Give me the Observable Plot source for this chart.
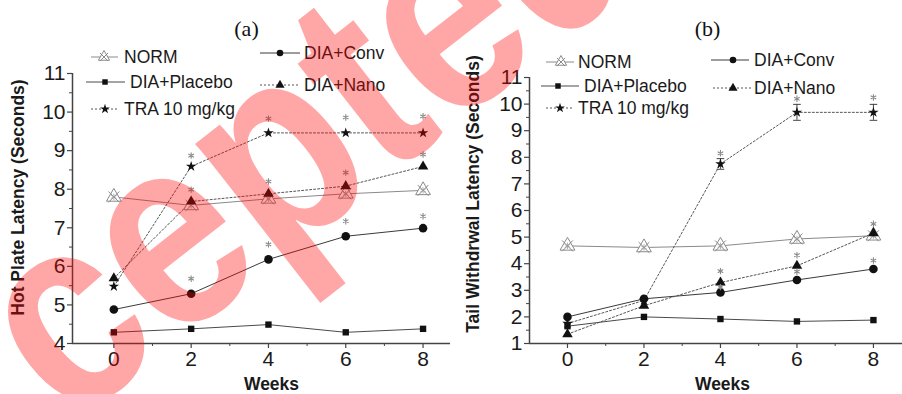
<!DOCTYPE html>
<html><head><meta charset="utf-8">
<script src="https://cdn.jsdelivr.net/npm/d3@7"></script>
<script src="https://cdn.jsdelivr.net/npm/@observablehq/plot@0.6"></script>
<style>
body{margin:0;background:#fff;}
#wrap{position:relative;width:902px;height:394px;overflow:hidden;background:#fff;}
#charts{display:flex;}
#charts svg{display:block;}
#wm{position:absolute;left:0;top:0;pointer-events:none;}
</style></head><body>
<div id="wrap"><div id="charts"></div><svg id="wm" width="902" height="394"></svg></div>
<script>
const weeks = [0, 2, 4, 6, 8];
const seriesNames = ["NORM", "DIA+Placebo", "DIA+Conv", "DIA+Nano", "TRA 10 mg/kg"];

// (a) Hot plate latency (seconds)
const hotNorm    = [7.80, 7.58, 7.75, 7.88, 7.97];
const hotPlacebo = [4.29, 4.38, 4.49, 4.29, 4.38];
const hotConv    = [4.88, 5.29, 6.18, 6.78, 6.99];
const hotNano    = [5.69, 7.68, 7.88, 8.08, 8.59];
const hotTra     = [5.48, 8.59, 9.46, 9.46, 9.46];
const hotSigWeeks = [2, 2, 2, 4, 4, 4, 6, 6, 6, 8, 8, 8];
const hotSigY     = [8.87, 7.99, 5.68, 9.83, 8.20, 6.57, 9.86, 8.43, 7.17, 9.89, 8.90, 7.30];

// (b) Tail withdrawal latency (seconds)
const tailNorm    = [4.67, 4.61, 4.67, 4.93, 5.05];
const tailPlacebo = [1.65, 2.00, 1.92, 1.83, 1.88];
const tailConv    = [2.00, 2.68, 2.92, 3.39, 3.80];
const tailNano    = [1.35, 2.42, 3.29, 3.92, 5.15];
const tailTra     = [1.75, 2.62, 7.75, 9.69, 9.69];
const tailTraErr  = [0, 0, 0.20, 0.30, 0.30];
const tailSigWeeks = [4, 4, 4, 6, 6, 6, 8, 8, 8];
const tailSigY     = [8.15, 3.72, 3.12, 10.20, 4.32, 3.70, 10.25, 5.50, 4.12];

const watermarkText = "Accepted";

const FONT = "'Liberation Sans', Arial, sans-serif";
const styles = {
  "NORM":         {stroke: "#8a8a8a", dash: null,  symbol: "norm"},
  "DIA+Placebo":  {stroke: "#4a4a4a", dash: null,  symbol: "square"},
  "DIA+Conv":     {stroke: "#3a3a3a", dash: null,  symbol: "circle"},
  "DIA+Nano":     {stroke: "#555",    dash: "2,2", symbol: "triangle"},
  "TRA 10 mg/kg": {stroke: "#555",    dash: "2,2", symbol: "star"}
};
const markR = {square: 3.6, circle: 4.3, triangle: 3.9, star: 3.3};

function rows(vals) { return weeks.map((w, i) => ({w, v: vals[i]})); }

function dotMarks(data, name) {
  const s = styles[name];
  if (s.symbol === "norm") {
    return [
      Plot.dot(data, {x: "w", y: "v", symbol: "triangle", r: 5.5, fill: "white", stroke: "#8a8a8a", strokeWidth: 1}),
      Plot.dot(data, {x: "w", y: "v", symbol: "times", r: 5, stroke: "#8a8a8a", strokeWidth: 1}),
      Plot.dot(data, {x: "w", y: "v", symbol: "asterisk", r: 3, stroke: "#9a9a9a", strokeWidth: 0.8})
    ];
  }
  return [Plot.dot(data, {x: "w", y: "v", symbol: s.symbol, r: markR[s.symbol], fill: "#111", stroke: "none"})];
}

function drawLegend(svg, items) {
  const g = d3.select(svg).append("g").attr("text-anchor", "start");
  for (const it of items) {
    const s = styles[it.name];
    g.append("line").attr("x1", it.x1).attr("x2", it.x2).attr("y1", it.y).attr("y2", it.y)
      .attr("stroke", s.stroke).attr("stroke-width", 1).attr("stroke-dasharray", s.dash);
    const t = `translate(${it.mx},${it.y})`;
    if (s.symbol === "norm") {
      g.append("path").attr("transform", t).attr("d", d3.symbol(d3.symbolTriangle, 55)())
        .attr("fill", "white").attr("stroke", "#8a8a8a");
      g.append("path").attr("transform", t).attr("d", d3.symbol(d3.symbolTimes, 45)())
        .attr("fill", "none").attr("stroke", "#8a8a8a");
    } else {
      const type = {square: d3.symbolSquare, circle: d3.symbolCircle, triangle: d3.symbolTriangle, star: d3.symbolStar}[s.symbol];
      const size = {square: 30, circle: 34, triangle: 36, star: 30}[s.symbol];
      g.append("path").attr("transform", t).attr("d", d3.symbol(type, size)()).attr("fill", "#111");
    }
    g.append("text").attr("x", it.tx).attr("y", it.y).attr("dy", "0.36em").attr("text-anchor", "start")
      .attr("font-family", FONT).attr("font-size", 17.5).attr("fill", "#1a1a1a").text(it.name);
  }
}

function panel(o) {
  const marks = [];
  const fmt = d3.format("d");
  marks.push(Plot.axisY({ticks: o.yTicks, tickSize: 5, tickPadding: 2, fontSize: 21, tickFormat: fmt, label: null, stroke: "#444", strokeWidth: 1.2}));
  marks.push(Plot.axisY({ticks: o.yMinor, tickSize: 3, tickFormat: () => "", label: null, stroke: "#444"}));
  marks.push(Plot.axisX({ticks: weeks, tickSize: 5, tickPadding: 3, fontSize: 21, tickFormat: fmt, label: null, stroke: "#444", strokeWidth: 1.2}));
  marks.push(Plot.axisX({ticks: [1, 3, 5, 7], tickSize: 3, tickFormat: () => "", label: null, stroke: "#444"}));
  marks.push(Plot.ruleX([o.xdomain[0]], {stroke: "#444", strokeWidth: 1.5}));
  marks.push(Plot.ruleY([o.ydomain[0]], {stroke: "#444", strokeWidth: 1.5}));
  o.series.forEach((vals, i) => {
    const name = seriesNames[i], s = styles[name];
    marks.push(Plot.line(rows(vals), {x: "w", y: "v", stroke: s.stroke, strokeWidth: 1, strokeDasharray: s.dash}));
  });
  if (o.err) {
    const ed = rows(o.err.vals).map((d, i) => ({...d, e: o.err.e[i]})).filter(d => d.e > 0);
    marks.push(Plot.ruleX(ed, {x: "w", y1: d => d.v - d.e, y2: d => d.v + d.e, stroke: "#444", strokeWidth: 1}));
    marks.push(Plot.link(ed, {x1: d => d.w - 0.1, x2: d => d.w + 0.1, y1: d => d.v + d.e, y2: d => d.v + d.e, stroke: "#444", strokeWidth: 1}));
    marks.push(Plot.link(ed, {x1: d => d.w - 0.1, x2: d => d.w + 0.1, y1: d => d.v - d.e, y2: d => d.v - d.e, stroke: "#444", strokeWidth: 1}));
  }
  o.series.forEach((vals, i) => { marks.push(...dotMarks(rows(vals), seriesNames[i])); });
  const sig = o.sigW.map((w, i) => ({w, v: o.sigY[i]}));
  marks.push(Plot.dot(sig, {x: "w", y: "v", symbol: "asterisk", r: 3, stroke: "#8a8a8a", strokeWidth: 1.1}));
  marks.push(Plot.text([o.title], {frameAnchor: "top", textAnchor: "middle", lineAnchor: "middle", dx: o.titleDx, dy: o.titleDy, fontSize: 22, fontFamily: "'Liberation Serif', 'Times New Roman', serif", fill: "#111"}));
  marks.push(Plot.text(["Weeks"], {frameAnchor: "bottom", textAnchor: "middle", lineAnchor: "middle", dx: o.weeksDx, dy: 41, fontSize: 17.5, fontWeight: "bold", fill: "#1a1a1a"}));
  marks.push(Plot.text([o.ylabel], {frameAnchor: "left", textAnchor: "middle", lineAnchor: "middle", rotate: -90, dx: o.ylabDx, dy: o.ylabDy, fontSize: 17.5, fontWeight: "bold", fill: "#1a1a1a"}));

  const chart = Plot.plot({
    width: 451, height: 394,
    marginLeft: o.mL, marginRight: o.mR, marginTop: o.mT, marginBottom: o.mB,
    x: {domain: o.xdomain},
    y: {domain: o.ydomain},
    style: {fontFamily: FONT, color: "#1a1a1a", background: "white", overflow: "visible"},
    marks
  });
  drawLegend(chart, o.legend);
  return chart;
}

const A = panel({
  title: "(a)", ylabel: "Hot Plate Latency (Seconds)",
  xdomain: [-1.07, 8.71], ydomain: [4, 11],
  mL: 72, mR: 1, mT: 73, mB: 51,
  yTicks: d3.range(4, 12), yMinor: d3.range(4.5, 11, 1),
  series: [hotNorm, hotPlacebo, hotConv, hotNano, hotTra],
  sigW: hotSigWeeks, sigY: hotSigY,
  titleDx: -15, titleDy: -45, weeksDx: 10, ylabDx: -54, ylabDy: -11,
  legend: [
    {name: "NORM", x1: 91, x2: 118, mx: 104, y: 57, tx: 124},
    {name: "DIA+Conv", x1: 260, x2: 300, mx: 280, y: 53, tx: 304},
    {name: "DIA+Placebo", x1: 86, x2: 125, mx: 105, y: 82, tx: 130},
    {name: "DIA+Nano", x1: 260, x2: 300, mx: 280, y: 85, tx: 304},
    {name: "TRA 10 mg/kg", x1: 91, x2: 118, mx: 105, y: 109, tx: 124}
  ]
});

const B = panel({
  title: "(b)", ylabel: "Tail Withdrwal Latency (Seconds)",
  xdomain: [-0.993, 8.76], ydomain: [1, 11],
  mL: 78, mR: 0, mT: 77, mB: 51,
  yTicks: d3.range(1, 12), yMinor: d3.range(1.5, 11, 1),
  series: [tailNorm, tailPlacebo, tailConv, tailNano, tailTra],
  err: {vals: tailTra, e: tailTraErr},
  sigW: tailSigWeeks, sigY: tailSigY,
  titleDx: -8.5, titleDy: -49, weeksDx: 6.5, ylabDx: -56, ylabDy: -16.5,
  legend: [
    {name: "NORM", x1: 95, x2: 123, mx: 110, y: 62, tx: 127},
    {name: "DIA+Conv", x1: 260, x2: 298, mx: 282, y: 60, tx: 303},
    {name: "DIA+Placebo", x1: 90, x2: 128, mx: 107, y: 86, tx: 133},
    {name: "DIA+Nano", x1: 262, x2: 302, mx: 282, y: 88, tx: 303},
    {name: "TRA 10 mg/kg", x1: 95, x2: 123, mx: 109, y: 108, tx: 127}
  ]
});

document.getElementById("charts").append(A, B);

// watermark
d3.select("#wm").append("text")
  .attr("transform", "translate(-168,612) rotate(-38) scale(0.85,1)")
  .attr("font-family", FONT).attr("font-weight", "bold").attr("font-size", 275)
  .attr("fill", "#ff0000").attr("fill-opacity", 0.35)
  .text(watermarkText);
</script>
</body></html>
